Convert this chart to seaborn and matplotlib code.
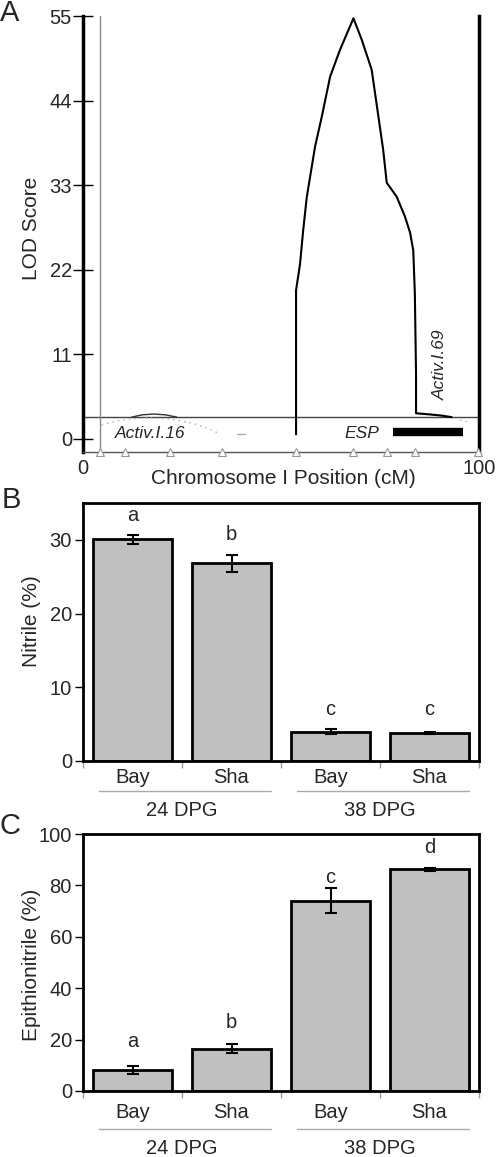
import numpy as np
import pandas as pd
import matplotlib
matplotlib.use("Agg")
import matplotlib.pyplot as plt
import matplotlib.transforms as mtransforms
import seaborn as sns

# ---------------- Panel A data (LOD profile, chromosome I) ----------------
lod_pos = [53.8, 53.8, 54.8, 55.6, 56.5, 58.6, 60.3, 62.4, 64.9, 68.3, 70.4,
           72.9, 74.6, 75.8, 76.7, 79.2, 81.3, 82.6, 83.4, 83.8, 84.1, 84.1,
           87.6, 90.5, 93.1]
lod_val = [0.55, 19.3, 22.7, 27.1, 31.4, 38.0, 41.9, 47.1, 50.6, 54.7, 51.9,
           48.0, 41.9, 37.6, 33.3, 31.5, 28.9, 26.8, 24.5, 18.9, 8.5, 3.3,
           3.15, 3.0, 2.8]
bump_pos = [12.3, 15.0, 17.8, 20.8, 23.7]
bump_val = [2.8, 3.1, 3.2, 3.1, 2.8]
sub_pos = [4.7, 8.5, 12.0, 16.0, 19.5, 23.0, 27.7, 31.3, 34.6]
sub_val = [1.8, 2.3, 2.55, 2.7, 2.65, 2.45, 2.0, 1.4, 0.6]
sub_dash_pos = [38.9, 40.9]
sub_dash_val = [0.6, 0.6]
sub_right_pos = [95.2, 97.2]
sub_right_val = [2.4, 2.2]
marker_pos = [4.3, 10.6, 22.0, 35.0, 53.7, 68.2, 76.7, 83.8, 99.7]
threshold = 2.8
chrom_start = 4.3
esp_span = [78.3, 96.0]
lod_ticks = [0, 11, 22, 33, 44, 55]

# ---------------- Panels B & C data ----------------
genotypes = ["Bay", "Sha", "Bay", "Sha"]
stages = ["24 DPG", "24 DPG", "38 DPG", "38 DPG"]
nitrile_mean = [30.1, 26.8, 3.95, 3.75]
nitrile_err = [0.6, 1.1, 0.35, 0.15]
nitrile_letters = ["a", "b", "c", "c"]
nitrile_letter_y = [32.5, 30.0, 6.2, 6.2]
epi_mean = [8.1, 16.5, 74.0, 86.2]
epi_err = [1.6, 1.8, 4.8, 0.7]
epi_letters = ["a", "b", "c", "d"]
epi_letter_y = [17.0, 24.4, 81.0, 92.7]

sns.set_theme(style="white")
plt.rcParams['font.family'] = ['Liberation Sans', 'DejaVu Sans']

W, H = 498, 1157
fig = plt.figure(figsize=(W / 100, H / 100), dpi=100)

def box(left, top, right, bottom):
    return [left / W, 1 - bottom / H, (right - left) / W, (bottom - top) / H]

axA = fig.add_axes(box(83, 16, 479, 451.7))
axB = fig.add_axes(box(83, 503, 479, 761))
axC = fig.add_axes(box(83, 834, 479, 1091))

# ---------------- Panel A ----------------
ax = axA
ax.set_xlim(0, 100)
ax.set_ylim(-1.7, 55)
ax.axhline(threshold, color="#444444", lw=1.0, zorder=2)
ax.axvline(chrom_start, color="#888888", lw=1.0, zorder=2)
sns.lineplot(x=sub_pos, y=sub_val, ax=ax, color="#aaaaaa", lw=1.0,
             linestyle=(0, (1, 3)), sort=False, estimator=None)
sns.lineplot(x=sub_dash_pos, y=sub_dash_val, ax=ax, color="#aaaaaa", lw=1.0,
             sort=False, estimator=None)
sns.lineplot(x=sub_right_pos, y=sub_right_val, ax=ax, color="#aaaaaa", lw=1.0,
             linestyle=(0, (1, 3)), sort=False, estimator=None)
sns.lineplot(x=bump_pos, y=bump_val, ax=ax, color="#333333", lw=1.0,
             sort=False, estimator=None)
sns.lineplot(x=lod_pos, y=lod_val, ax=ax, color="black", lw=1.5,
             sort=False, estimator=None)
ax.plot(marker_pos, [-1.7] * len(marker_pos), ls="none", marker="^",
        ms=6, mfc="white", mec="#999999", mew=0.8, clip_on=False, zorder=5)
ax.plot(esp_span, [0.8, 0.8], color="black", lw=6, solid_capstyle="butt")
ax.text(16.9, 0.7, "Activ.I.16", style="italic", ha="center", va="center",
        fontsize=12.5)
ax.text(70.5, 0.7, "ESP", style="italic", ha="center", va="center",
        fontsize=12.5)
ax.text(90.2, 9.6, "Activ.I.69", style="italic", ha="center", va="center",
        rotation=90, fontsize=12.5)
for s in ["top"]:
    ax.spines[s].set_visible(False)
for s in ["left", "right"]:
    ax.spines[s].set_color("black")
    ax.spines[s].set_linewidth(2.5)
ax.spines["bottom"].set_color("#555555")
ax.spines["bottom"].set_linewidth(1.0)
ax.set_yticks(lod_ticks)
ax.set_xticks([0, 100])
ax.tick_params(axis="y", direction="inout", length=14, width=1, color="black",
               pad=1, labelsize=14.5, left=True)
ax.tick_params(axis="x", length=0, pad=5, labelsize=14.5)
ax.set_xlabel("Chromosome I Position (cM)", fontsize=15, va="center")
ax.xaxis.set_label_coords(0.505, -0.0604)
ax.set_ylabel("LOD Score", fontsize=15, va="center")
ax.yaxis.set_label_coords(-0.129, 0.513)

# ---------------- Panels B & C ----------------
def bar_panel(ax, means, errs, letters, letter_y, ylim, yticks, ylabel,
              label_y, xpad, line_y, group_y):
    keys = [f"{s} {g}" for s, g in zip(stages, genotypes)]
    df = pd.DataFrame({"key": keys, "mean": means})
    sns.barplot(data=df, x="key", y="mean", order=keys, color="#c0c0c0",
                saturation=1, edgecolor="black", linewidth=2, width=0.8,
                errorbar=None, ax=ax, zorder=2)
    idx = np.arange(len(keys))
    ax.errorbar(idx, means, yerr=errs, fmt="none", ecolor="black",
                elinewidth=1.5, capsize=4, capthick=1.5, zorder=3)
    for i, (lt, ly) in enumerate(zip(letters, letter_y)):
        ax.text(i, ly, lt, ha="center", va="baseline", fontsize=14.5)
    ax.set_xlim(-0.5, len(keys) - 0.5)
    ax.set_ylim(*ylim)
    ax.set_yticks(yticks)
    ax.set_xticks(idx)
    ax.set_xticklabels(genotypes)
    ax.set_xticks(np.arange(-0.5, len(keys)), minor=True)
    ax.tick_params(axis="x", which="major", length=0, pad=xpad, labelsize=14.5)
    ax.tick_params(axis="x", which="minor", length=5, width=1,
                   color="#999999", bottom=True, direction="out")
    ax.tick_params(axis="y", length=6, width=1, color="black", pad=2,
                   labelsize=14.5, left=True, direction="out")
    for s in ax.spines.values():
        s.set_visible(True)
        s.set_color("black")
        s.set_linewidth(2)
    ax.set_xlabel("")
    ax.set_ylabel(ylabel, fontsize=15, va="center")
    ax.yaxis.set_label_coords(-0.131, label_y)
    trans = mtransforms.blended_transform_factory(ax.transData, ax.transAxes)
    for stg in ["24 DPG", "38 DPG"]:
        members = [i for i, s in enumerate(stages) if s == stg]
        x0, x1 = min(members) - 0.34, max(members) + 0.40
        ax.plot([x0, x1], [line_y, line_y], transform=trans, clip_on=False,
                color="#aaaaaa", lw=1.0)
        ax.text(np.mean(members), group_y, stg, transform=trans,
                ha="center", va="center", fontsize=14.5)

bar_panel(axB, nitrile_mean, nitrile_err, nitrile_letters, nitrile_letter_y,
          (0, 35), [0, 10, 20, 30], "Nitrile (%)", 0.543, 5,
          (761 - 791) / 258, (761 - 811) / 258)
bar_panel(axC, epi_mean, epi_err, epi_letters, epi_letter_y,
          (0, 100), [0, 20, 40, 60, 80, 100], "Epithionitrile (%)", 0.49, 9,
          (1091 - 1129) / 257, (1091 - 1148) / 257)

# Panel letters
fig.text(10 / W, 1 - 13 / H, "A", ha="center", va="center", fontsize=21)
fig.text(11 / W, 1 - 500 / H, "B", ha="center", va="center", fontsize=21)
fig.text(10 / W, 1 - 826 / H, "C", ha="center", va="center", fontsize=21)

fig.savefig("out.png", dpi=100)
